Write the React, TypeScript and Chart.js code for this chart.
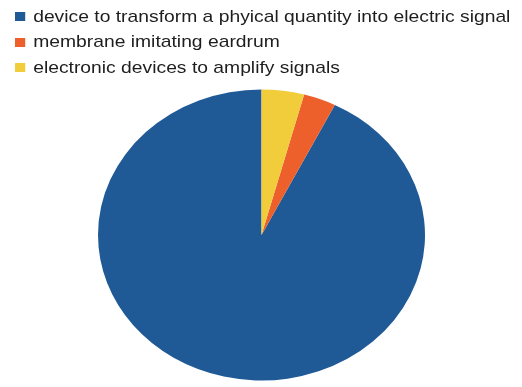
import React, { useEffect, useRef } from "react";
import { Chart, registerables } from "chart.js";

Chart.register(...registerables);

const labels = [
  "device to transform a phyical quantity into electric signal",
  "membrane imitating eardrum",
  "electronic devices to amplify signals",
];
const values = [92.6, 3.2, 4.2];
const colors = ["#1f5a97", "#ee602b", "#f1cc3b"];

const SQUASH = 0.89;
const TARGET_CY = 235;

// The reference draws slices counter-clockwise and is stretched horizontally:
// mirror the arcs horizontally and squash them vertically around the pie centre.
const ellipsePlugin = {
  id: "ellipse",
  beforeDatasetsDraw(chart: any) {
    const a = chart.chartArea;
    const cx = (a.left + a.right) / 2;
    const cy = (a.top + a.bottom) / 2;
    const ctx = chart.ctx;
    ctx.save();
    ctx.translate(cx, TARGET_CY);
    ctx.scale(-1, SQUASH);
    ctx.translate(-cx, -cy);
  },
  afterDatasetsDraw(chart: any) {
    chart.ctx.restore();
  },
};

export default function App() {
  const ref = useRef<HTMLCanvasElement | null>(null);
  useEffect(() => {
    if (!ref.current) return;
    const chart = new Chart(ref.current, {
      type: "pie",
      data: {
        labels,
        datasets: [
          {
            data: values,
            backgroundColor: colors,
            borderWidth: 0,
            hoverOffset: 0,
            offset: 0,
            clip: false,
          } as any,
        ],
      },
      options: {
        animation: false,
        responsive: false,
        events: [],
        rotation: 0,
        layout: { padding: { left: 98, right: 97, top: 0, bottom: 0 } },
        plugins: {
          legend: { display: false },
          tooltip: { enabled: false },
        },
      },
      plugins: [ellipsePlugin],
    });
    return () => chart.destroy();
  }, []);

  return (
    <div
      style={{
        position: "fixed",
        left: 0,
        top: 0,
        width: 522,
        height: 387,
        background: "#ffffff",
        overflow: "hidden",
      }}
    >
      <canvas ref={ref} width={522} height={387} style={{ position: "absolute", left: 0, top: 0 }} />
      <div
        style={{
          position: "absolute",
          left: 15,
          top: 4,
          fontFamily: "'Liberation Sans', Arial, Helvetica, sans-serif",
          fontSize: 17,
          color: "#1e1e1e",
          transform: "scaleX(1.135)",
          transformOrigin: "0 0",
        }}
      >
        {labels.map((l, i) => (
          <div key={i} style={{ display: "flex", alignItems: "center", height: 25.5, whiteSpace: "nowrap" }}>
            <span
              style={{
                display: "inline-block",
                width: 9,
                height: 9,
                background: colors[i],
                marginRight: 7,
              }}
            />
            <span>{l}</span>
          </div>
        ))}
      </div>
    </div>
  );
}
